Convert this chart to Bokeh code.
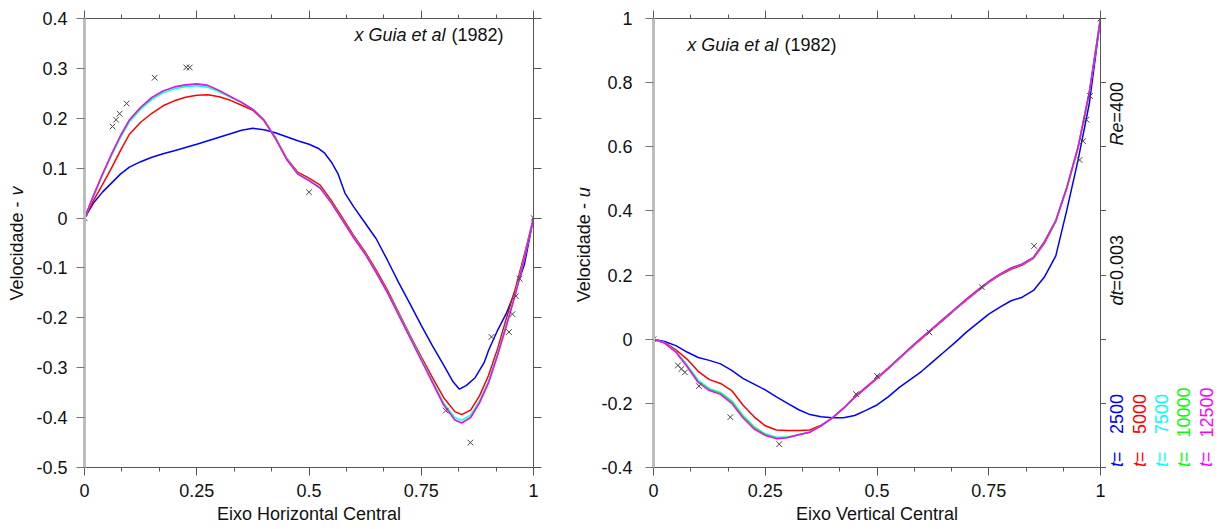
import numpy as np
from bokeh.plotting import figure
from bokeh.models import Range1d, LinearAxis, FixedTicker, CustomJSTickFormatter, Label
from bokeh.layouts import row
from bokeh.embed import file_html
from bokeh.resources import INLINE

FONT = "Liberation Sans"
TXT = "#111111"
AX = "#555555"
FS = "18px"

# ---------------- data: horizontal centre line (v) ----------------
x_h = [0, 0.02, 0.04, 0.06, 0.08, 0.10, 0.125, 0.15, 0.175, 0.2, 0.225, 0.25, 0.275, 0.3,
       0.325, 0.35, 0.375, 0.4, 0.425, 0.45, 0.475, 0.5, 0.525, 0.55, 0.575, 0.6, 0.625,
       0.65, 0.675, 0.7, 0.725, 0.75, 0.775, 0.8, 0.825, 0.84, 0.86, 0.88, 0.9, 0.92,
       0.94, 0.96, 0.98, 1.0]
x_h_2500 = [0, 0.02, 0.04, 0.06, 0.08, 0.1, 0.125, 0.15, 0.175, 0.2, 0.25, 0.3, 0.35, 0.375,
            0.4, 0.425, 0.45, 0.475, 0.5, 0.52, 0.535, 0.55, 0.565, 0.58, 0.6, 0.625, 0.65,
            0.675, 0.7, 0.725, 0.75, 0.775, 0.8, 0.82, 0.835, 0.85, 0.87, 0.89, 0.9, 0.92,
            0.94, 0.96, 0.98, 1.0]
v_2500 = [0, 0.03, 0.052, 0.07, 0.088, 0.102, 0.113, 0.122, 0.129, 0.135, 0.148, 0.162,
          0.176, 0.18, 0.177, 0.171, 0.163, 0.155, 0.148, 0.14, 0.13, 0.112, 0.088, 0.05,
          0.022, -0.01, -0.042, -0.085, -0.13, -0.172, -0.215, -0.256, -0.295, -0.327,
          -0.343, -0.336, -0.32, -0.29, -0.265, -0.225, -0.19, -0.145, -0.092, 0]
v_5000 = [0, 0.035, 0.067, 0.1, 0.135, 0.168, 0.192, 0.21, 0.225, 0.235, 0.242, 0.246,
          0.247, 0.243, 0.236, 0.226, 0.216, 0.195, 0.162, 0.12, 0.092, 0.08, 0.066, 0.035,
          0.0, -0.036, -0.068, -0.105, -0.145, -0.19, -0.235, -0.278, -0.32, -0.36, -0.388,
          -0.394, -0.385, -0.356, -0.315, -0.262, -0.2, -0.14, -0.072, 0]
v_7500 = [0, 0.044, 0.086, 0.125, 0.161, 0.193, 0.218, 0.238, 0.251, 0.259, 0.263, 0.265,
          0.262, 0.253, 0.242, 0.231, 0.218, 0.197, 0.161, 0.119, 0.089, 0.076, 0.061, 0.031,
          -0.004, -0.039, -0.071, -0.109, -0.149, -0.193, -0.238, -0.282, -0.327, -0.371,
          -0.4, -0.405, -0.395, -0.366, -0.326, -0.271, -0.211, -0.149, -0.078, 0]
v_10000 = [0, 0.045, 0.087, 0.127, 0.164, 0.196, 0.221, 0.241, 0.254, 0.262, 0.266, 0.268,
           0.265, 0.255, 0.243, 0.232, 0.218, 0.196, 0.16, 0.118, 0.088, 0.075, 0.06, 0.03,
           -0.005, -0.04, -0.072, -0.11, -0.15, -0.194, -0.24, -0.284, -0.329, -0.374,
           -0.404, -0.41, -0.399, -0.369, -0.329, -0.274, -0.214, -0.151, -0.08, 0]
v_12500 = [0, 0.045, 0.088, 0.128, 0.165, 0.197, 0.222, 0.242, 0.255, 0.263, 0.267, 0.269,
           0.266, 0.256, 0.244, 0.232, 0.218, 0.196, 0.16, 0.118, 0.088, 0.075, 0.06, 0.03,
           -0.005, -0.04, -0.072, -0.11, -0.15, -0.195, -0.24, -0.285, -0.33, -0.375,
           -0.405, -0.411, -0.40, -0.37, -0.33, -0.275, -0.215, -0.152, -0.08, 0]
ghia_x = [0, 0.0625, 0.0703, 0.0781, 0.0938, 0.1563, 0.2266, 0.2344, 0.5, 0.8047, 0.8594,
          0.9063, 0.9453, 0.9531, 0.9609, 0.9688, 1.0]
ghia_v = [0, 0.1836, 0.19713, 0.2092, 0.22965, 0.28124, 0.30203, 0.30174, 0.05186, -0.38598,
          -0.44993, -0.23827, -0.22847, -0.19254, -0.15663, -0.12146, 0]

# ---------------- data: vertical centre line (u) ----------------
y_v = [0, 0.025, 0.05, 0.075, 0.1, 0.125, 0.15, 0.175, 0.2, 0.225, 0.25, 0.275, 0.3, 0.325,
       0.35, 0.375, 0.4, 0.425, 0.45, 0.475, 0.5, 0.525, 0.55, 0.575, 0.6, 0.625, 0.65,
       0.675, 0.7, 0.725, 0.75, 0.775, 0.8, 0.825, 0.85, 0.875, 0.9, 0.925, 0.95, 0.975, 1.0]
u_2500 = [0, -0.007, -0.02, -0.04, -0.057, -0.066, -0.077, -0.097, -0.122, -0.14, -0.158,
          -0.18, -0.2, -0.22, -0.235, -0.242, -0.245, -0.245, -0.238, -0.222, -0.205, -0.18,
          -0.15, -0.125, -0.1, -0.07, -0.04, -0.01, 0.022, 0.05, 0.078, 0.1, 0.12, 0.131,
          0.152, 0.195, 0.26, 0.405, 0.56, 0.735, 1.0]
u_5000 = [0, -0.01, -0.033, -0.062, -0.1, -0.126, -0.138, -0.16, -0.205, -0.242, -0.27,
          -0.283, -0.285, -0.285, -0.283, -0.268, -0.246, -0.216, -0.182, -0.153, -0.123,
          -0.093, -0.061, -0.029, 0.002, 0.032, 0.062, 0.092, 0.122, 0.15, 0.177, 0.2, 0.218,
          0.231, 0.252, 0.3, 0.367, 0.472, 0.598, 0.768, 1.0]
u_7500 = [0, -0.011, -0.038, -0.08, -0.128, -0.154, -0.166, -0.192, -0.238, -0.273, -0.295,
          -0.306, -0.305, -0.297, -0.289, -0.27, -0.245, -0.215, -0.18, -0.151, -0.121,
          -0.091, -0.059, -0.027, 0.004, 0.034, 0.064, 0.094, 0.124, 0.152, 0.179, 0.202,
          0.221, 0.234, 0.254, 0.304, 0.37, 0.475, 0.6, 0.77, 1.0]
u_10000 = [0, -0.012, -0.039, -0.083, -0.132, -0.157, -0.169, -0.195, -0.24, -0.275, -0.297,
           -0.308, -0.306, -0.298, -0.29, -0.27, -0.245, -0.215, -0.18, -0.15, -0.12, -0.09,
           -0.058, -0.026, 0.005, 0.035, 0.065, 0.095, 0.125, 0.153, 0.18, 0.203, 0.222,
           0.235, 0.255, 0.305, 0.37, 0.475, 0.6, 0.77, 1.0]
u_12500 = [0, -0.012, -0.04, -0.085, -0.135, -0.16, -0.172, -0.2, -0.245, -0.28, -0.3, -0.31,
           -0.307, -0.298, -0.29, -0.27, -0.245, -0.215, -0.18, -0.15, -0.12, -0.09, -0.058,
           -0.026, 0.005, 0.035, 0.065, 0.095, 0.125, 0.153, 0.18, 0.203, 0.222, 0.235,
           0.255, 0.305, 0.37, 0.475, 0.6, 0.77, 1.0]
ghia_y = [0, 0.0547, 0.0625, 0.0703, 0.1016, 0.1719, 0.2813, 0.4531, 0.5, 0.6172, 0.7344,
          0.8516, 0.9531, 0.9609, 0.9688, 0.9766, 1.0]
ghia_u = [0, -0.08186, -0.09266, -0.10338, -0.14612, -0.24299, -0.32726, -0.17119, -0.11477,
          0.02135, 0.16256, 0.29093, 0.55892, 0.61756, 0.68439, 0.75837, 1.0]

times = ["2500", "5000", "7500", "10000", "12500"]
colors = ["#0000ff", "#ff0000", "#00ffff", "#00ff00", "#ff00ff"]
x_ticks = [0, 0.25, 0.5, 0.75, 1]
x_minor = [1/12, 2/12, 4/12, 5/12, 7/12, 8/12, 10/12, 11/12]
v_ticks = [-0.5, -0.4, -0.3, -0.2, -0.1, 0, 0.1, 0.2, 0.3, 0.4]
u_ticks = [-0.4, -0.2, 0, 0.2, 0.4, 0.6, 0.8, 1.0]

FMT = "return String(Math.round(tick*100)/100);"
H = 528
TOP = 18          # page y of the frame top (shared by all plots in the row)
FH = 449          # frame height
BOT = TOP + FH    # page y of the frame bottom
SHIFT = 7         # empirical offset of Label glyphs below their anchor


def make_fig(width, bl, br, xr, yr, yticks, standoff, xtitle, rtick=8):
    p = figure(width=width, height=H, x_range=Range1d(*xr), y_range=Range1d(*yr),
               output_backend="svg", toolbar_location=None,
               min_border_left=bl, min_border_right=br, min_border_top=TOP,
               min_border_bottom=H - BOT)
    p.xgrid.visible = False
    p.ygrid.visible = False
    p.outline_line_color = None
    xt = FixedTicker(ticks=x_ticks, minor_ticks=x_minor)
    yt = FixedTicker(ticks=yticks, minor_ticks=[])
    xa = p.below[0]
    xa.ticker = xt
    xa.formatter = CustomJSTickFormatter(code=FMT)
    xa.axis_line_color = AX
    xa.major_tick_line_color = AX
    xa.minor_tick_line_color = AX
    xa.major_tick_in = 0
    xa.major_tick_out = 8
    xa.minor_tick_in = 0
    xa.minor_tick_out = 4
    xa.major_label_text_font = FONT
    xa.major_label_text_font_size = FS
    xa.major_label_text_color = TXT
    xa.major_label_standoff = 8
    xa.axis_label = xtitle
    xa.axis_label_text_font = FONT
    xa.axis_label_text_font_size = FS
    xa.axis_label_text_font_style = "normal"
    xa.axis_label_text_color = TXT
    xa.axis_label_standoff = 4
    ya = p.left[0]
    ya.ticker = yt
    ya.formatter = CustomJSTickFormatter(code=FMT)
    ya.axis_line_color = "#bdbdbd"
    ya.axis_line_width = 3
    ya.major_tick_line_color = "#777777"
    ya.minor_tick_line_color = None
    ya.major_tick_in = 0
    ya.major_tick_out = 8
    ya.major_label_text_font = FONT
    ya.major_label_text_font_size = FS
    ya.major_label_text_color = TXT
    ya.major_label_standoff = standoff
    ta = LinearAxis(ticker=xt, major_label_text_font_size="0px", major_label_text_color=None,
                    major_label_standoff=0,
                    axis_line_color=AX, major_tick_line_color=AX, minor_tick_line_color=AX,
                    major_tick_in=0, major_tick_out=8, minor_tick_in=0, minor_tick_out=4)
    p.add_layout(ta, "above")
    ra = LinearAxis(ticker=yt, major_label_text_font_size="0px", major_label_text_color=None,
                    major_label_standoff=0,
                    axis_line_color=AX, major_tick_line_color=AX, minor_tick_line_color=None,
                    major_tick_in=0, major_tick_out=rtick)
    p.add_layout(ra, "right")
    return p


def text_fig(x0, x1):
    # a bare figure whose frame spans the plots' frame band; data units equal page pixels
    t = figure(width=x1 - x0, height=H, x_range=Range1d(x0, x1), y_range=Range1d(BOT, TOP),
               output_backend="svg", toolbar_location=None, x_axis_type=None,
               y_axis_type=None, min_border_left=0, min_border_right=0,
               min_border_top=TOP, min_border_bottom=H - BOT)
    t.xgrid.visible = False
    t.ygrid.visible = False
    t.outline_line_color = None
    return t


def put(p, x, y, text, italic=False, align="left", angle=0.0, color=TXT):
    p.add_layout(Label(x=x, y=y, text=text, text_font=FONT, text_font_size=FS,
                       text_font_style="italic" if italic else "normal", text_color=color,
                       text_align=align, text_baseline="alphabetic", angle=angle))


def page_to_data(geom, px, py):
    left, w, xr, yr = geom
    return (xr[0] + (px - left) / w * (xr[1] - xr[0]),
            yr[1] - (py - TOP) / FH * (yr[1] - yr[0]))


ROT = np.pi / 2

# ---- column 1: left y title (page x 0..30) ----
t1 = text_fig(0, 30)
put(t1, 23.5 - SHIFT, 300, "Velocidade -", angle=ROT)
put(t1, 23.5 - SHIFT, 195, "v", italic=True, angle=ROT)

# ---- column 2: left plot (page x 30..553) ----
p1 = make_fig(523, 54, 20, (0, 1), (-0.5, 0.4), v_ticks, 9, "Eixo Horizontal Central")
p1.line(x_h_2500, v_2500, line_color=colors[0], line_width=1.5)
for vals, c in zip([v_5000, v_7500, v_10000, v_12500], colors[1:]):
    p1.line(x_h, vals, line_color=c, line_width=1.5)
p1.scatter(ghia_x, ghia_v, marker="x", size=8, line_color="#444444", line_width=1)
G1 = (84, 449, (0, 1), (-0.5, 0.4))
for px, txt, it in [(354, "x Guia et al", True), (451, "(1982)", False)]:
    x, y = page_to_data(G1, px, 41.5 - SHIFT)
    put(p1, x, y, txt, italic=it)

# ---- column 3: right y title (page x 553..597) ----
t2 = text_fig(553, 597)
put(t2, 590 - SHIFT, 301.7, "Velocidade -", angle=ROT)
put(t2, 590 - SHIFT, 196.7, "u", italic=True, angle=ROT)

# ---- column 4: right plot (page x 597..1106) ----
p2 = make_fig(509, 56, 6, (0, 1), (-0.4, 1.0), u_ticks, 13, "Eixo Vertical Central",
              rtick=6)
for vals, c in zip([u_2500, u_5000, u_7500, u_10000, u_12500], colors):
    p2.line(y_v, vals, line_color=c, line_width=1.5)
p2.scatter(ghia_y, ghia_u, marker="x", size=8, line_color="#444444", line_width=1)
G2 = (653, 447, (0, 1), (-0.4, 1.0))
for px, txt, it in [(686.7, "x Guia et al", True), (784, "(1982)", False)]:
    x, y = page_to_data(G2, px, 51.5 - SHIFT)
    put(p2, x, y, txt, italic=it)

# ---- column 5: run parameters and time legend (page x 1106..1219) ----
t3 = text_fig(1106, 1219)
put(t3, 1123 - SHIFT, 145, "Re", italic=True, angle=ROT)
put(t3, 1123 - SHIFT, 122, "=400", angle=ROT)
put(t3, 1123 - SHIFT, 305, "dt", italic=True, angle=ROT)
put(t3, 1123 - SHIFT, 290, "=0.003", angle=ROT)
xs_leg = [1123.3, 1146, 1168.3, 1190, 1212.7]
for t, c, lx in zip(times, colors, xs_leg):
    put(t3, lx - SHIFT, 466.5, "t", italic=True, angle=ROT, color=c)
    put(t3, lx - SHIFT, 461.5, "=", angle=ROT, color=c)
    put(t3, lx - SHIFT, 433.5 if len(t) == 4 else 437, t, angle=ROT, color=c)

layout = row(t1, p1, t2, p2, t3)
open("out.html", "w").write(file_html(layout, INLINE))
